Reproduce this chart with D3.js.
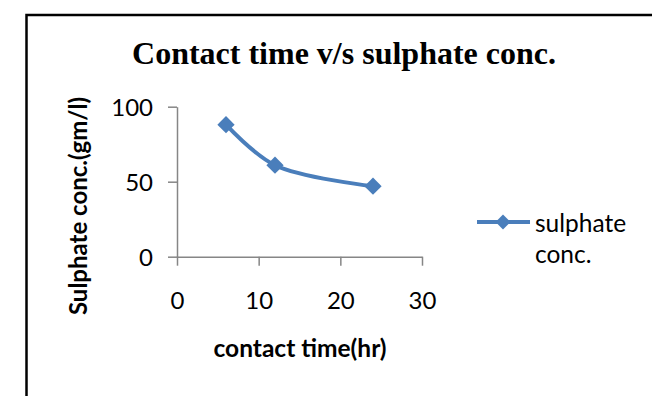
<!DOCTYPE html>
<html>
<head>
<meta charset="utf-8">
<script src="https://cdn.jsdelivr.net/npm/d3@7"></script>
<style>
  body { margin: 0; background: #fff; }
  .axis path, .axis line { stroke: #868686; stroke-width: 1.5; }
  .axis text { font-family: Lato, "Liberation Sans", sans-serif; font-size: 24px; fill: #000; }
</style>
</head>
<body>
<script>
// chart data
var contactTime = [6, 12, 24];
var sulphateConc = [88, 61, 47];
var xTickValues = [0, 10, 20, 30];
var yTickValues = [0, 50, 100];
var seriesName = ["sulphate", "conc."];

var width = 652;
var height = 396;
var plot = {left: 177, right: 422, top: 106.7, bottom: 256.7};
var blue = "#4a7ebb";

var svg = d3.select("body")
    .append("svg")
    .attr("width", width)
    .attr("height", height);

// outer frame, runs off the right and bottom edge
svg.append("rect")
    .attr("x", 26.5)
    .attr("y", 15)
    .attr("width", 700)
    .attr("height", 500)
    .attr("fill", "none")
    .attr("stroke", "#000")
    .attr("stroke-width", 2.5);

var xScale = d3.scaleLinear()
    .domain([0, 30])
    .range([plot.left, plot.right]);

var yScale = d3.scaleLinear()
    .domain([0, 100])
    .range([plot.bottom, plot.top]);

var xAxis = d3.axisBottom(xScale)
    .tickValues(xTickValues)
    .tickSize(9)
    .tickSizeOuter(0)
    .tickPadding(26);

var yAxis = d3.axisLeft(yScale)
    .tickValues(yTickValues)
    .tickSize(9)
    .tickSizeOuter(0)
    .tickPadding(15);

svg.append("g")
    .attr("class", "axis")
    .attr("transform", "translate(0," + plot.bottom + ")")
    .call(xAxis);

svg.append("g")
    .attr("class", "axis")
    .attr("transform", "translate(" + plot.left + ",0)")
    .call(yAxis)
    .selectAll("text")
        .attr("dy", "0.36em");

// title
svg.append("text")
    .attr("x", 344)
    .attr("y", 64)
    .attr("text-anchor", "middle")
    .style("font-family", "'Liberation Serif', 'Times New Roman', serif")
    .style("font-weight", "bold")
    .style("font-size", "32px")
    .text("Contact time v/s sulphate conc.");

// axis titles
svg.append("text")
    .attr("x", 300)
    .attr("y", 357)
    .attr("text-anchor", "middle")
    .style("font-family", "Lato, sans-serif")
    .style("font-weight", "bold")
    .style("font-size", "24.5px")
    .text("contact time(hr)");

svg.append("text")
    .attr("transform", "translate(87,206) rotate(-90)")
    .attr("text-anchor", "middle")
    .style("font-family", "Lato, sans-serif")
    .style("font-weight", "bold")
    .style("font-size", "24px")
    .text("Sulphate conc.(gm/l)");

// series line, smoothed like the spreadsheet one
var points = contactTime.map(function(d, i) {
    return [d, sulphateConc[i]];
});

var line = d3.line()
    .x(function(d) { return xScale(d[0]); })
    .y(function(d) { return yScale(d[1]); })
    .curve(d3.curveCatmullRom.alpha(0.5));

svg.append("path")
    .datum(points)
    .attr("d", line)
    .attr("fill", "none")
    .attr("stroke", blue)
    .attr("stroke-width", 4);

var diamond = d3.symbol().type(d3.symbolDiamond2).size(190);

svg.selectAll(".marker")
    .data(points)
    .enter()
    .append("path")
        .attr("class", "marker")
        .attr("transform", function(d) {
            return "translate(" + xScale(d[0]) + "," + yScale(d[1]) + ")";
        })
        .attr("d", diamond)
        .attr("fill", blue);

// legend
var legend = svg.append("g")
    .attr("transform", "translate(477,222)");

legend.append("line")
    .attr("x1", 0)
    .attr("x2", 53)
    .attr("stroke", blue)
    .attr("stroke-width", 4);

legend.append("path")
    .attr("transform", "translate(26,0)")
    .attr("d", d3.symbol().type(d3.symbolDiamond2).size(140))
    .attr("fill", blue);

legend.append("text")
    .attr("x", 58)
    .attr("y", 10)
    .style("font-family", "Lato, sans-serif")
    .style("font-size", "24.5px")
    .selectAll("tspan")
    .data(seriesName)
    .enter()
    .append("tspan")
        .attr("x", 58)
        .attr("dy", function(d, i) { return i === 0 ? 0 : 31; })
        .text(function(d) { return d; });
</script>
</body>
</html>
